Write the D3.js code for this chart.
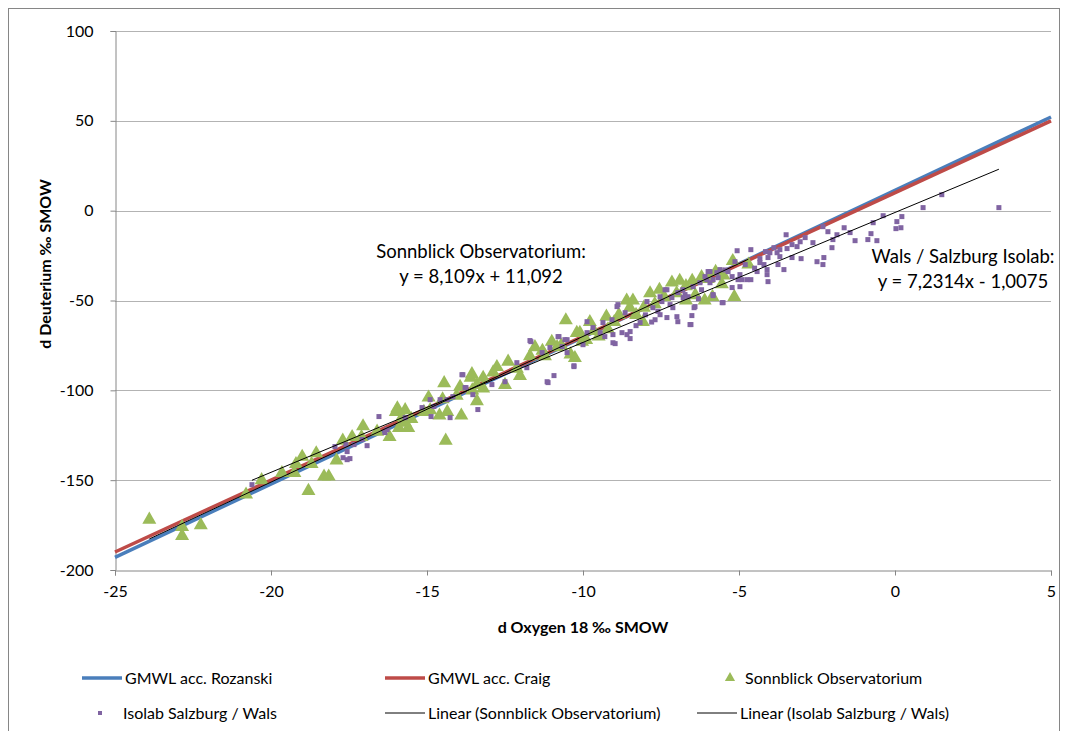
<!DOCTYPE html>
<html>
<head>
<meta charset="utf-8">
<script src="https://cdn.jsdelivr.net/npm/d3@7"></script>
<style>
  body { margin: 0; background: #fff; }
  svg { font-family: Lato, "Open Sans", sans-serif; }
  .tick text { font-size: 16px; fill: #000; }
  .axis-title { font-size: 16px; font-weight: bold; }
  .note { font-size: 18.5px; }
  .legend text { font-size: 16px; }
</style>
</head>
<body>
<div id="chart"></div>
<script>
// global meteoric water lines (x range drawn)
const gmwlX = [-25, 5];
const rozanski = { slope: 8.17, intercept: 11.27 };
const craig = { slope: 8, intercept: 10 };

// trendlines as labelled in the chart
const sonnblickFit = { slope: 8.109, intercept: 11.092 };
const isolabFit = { slope: 7.2314, intercept: -1.0075 };

const xTicks = [-25, -20, -15, -10, -5, 0, 5];
const yTicks = [-200, -150, -100, -50, 0, 50, 100];

// [d18O, dD] Sonnblick Observatorium
const sonnblick = [
  [-23.9,-172],[-22.85,-176],[-22.85,-181],[-22.25,-175],[-20.8,-158],[-20.3,-150],
  [-19.65,-146],[-19.25,-146],[-19.2,-141],[-19.0,-137],[-18.8,-156],[-18.7,-141],
  [-18.55,-135],[-18.3,-148],[-18.15,-148],[-17.9,-139],[-17.7,-128],[-17.4,-126],
  [-17.1,-126],[-17.05,-120],[-16.6,-123],[-16.2,-126],[-16.0,-112],[-15.95,-110],
  [-15.9,-121],[-15.8,-115],[-15.7,-111],[-15.7,-118],[-15.6,-121],[-15.5,-116],
  [-15.1,-112],[-14.95,-104],[-14.9,-111],[-14.6,-114],[-14.5,-105],[-14.45,-96],
  [-14.4,-128],[-14.35,-112],[-14.05,-103],[-13.9,-114],[-13.94,-98],[-13.6,-93],
  [-13.56,-91],[-13.55,-100],[-13.4,-97],[-13.4,-106],[-13.2,-93],[-13.2,-99],
  [-12.88,-90],[-12.76,-87],[-12.5,-97],[-12.4,-84],[-12.12,-88],[-12.02,-92],
  [-11.7,-81],[-11.54,-76],[-11.3,-78],[-11.22,-81],[-11.0,-73],[-10.83,-76],
  [-10.7,-75],[-10.55,-61],[-10.4,-80],[-10.26,-82],[-10.2,-68],[-10.1,-68],
  [-10.03,-73],[-9.9,-72],[-9.78,-62],[-9.65,-67],[-9.5,-70],[-9.25,-59],
  [-9.2,-66],[-9.0,-62],[-8.85,-58],[-8.6,-50],[-8.5,-54],[-8.4,-50],[-8.3,-58],
  [-8.08,-62],[-8.05,-54],[-7.85,-46],[-7.7,-52],[-7.55,-44],[-7.4,-48],
  [-7.15,-40],[-7.0,-46],[-6.9,-39],[-6.7,-42],[-6.7,-50],[-6.5,-39],[-6.4,-47],
  [-6.2,-37],[-6.1,-50],[-6.0,-38],[-5.85,-48],[-5.75,-34],[-5.55,-41],
  [-5.5,-36],[-5.2,-28],[-5.15,-48],[-4.7,-30]
];

// [d18O, dD] Isolab Salzburg / Wals
const isolab = [
  [-20.61,-152.5],[-17.95,-131.3],[-17.69,-137.5],[-17.6,-130.2],[-17.56,-138.6],
  [-17.47,-138],[-17.56,-134.1],[-17.34,-130.2],[-17.08,-127.4],[-16.92,-130.8],
  [-16.54,-114.6],[-16.35,-123.5],[-16.28,-121.9],[-15.7,-115.2],[-15.16,-109.6],
  [-14.9,-105.2],[-14.87,-114.6],[-14.78,-109],[-14.58,-105.2],[-14.36,-105.2],
  [-14.26,-115.2],[-14.17,-103.5],[-13.88,-91.3],[-13.85,-91.3],[-13.78,-98.5],
  [-13.75,-98.5],[-13.53,-102.4],[-13.37,-110.7],[-12.92,-96.8],[-12.5,-95.2],
  [-12.12,-84.6],[-11.8,-87.4],[-11.7,-72.3],[-11.67,-72.9],[-11.31,-79],
  [-11.15,-95.2],[-11.12,-95.7],[-11.06,-76.2],[-10.93,-91.8],[-10.8,-70.1],
  [-10.77,-70.1],[-10.67,-75.7],[-10.58,-71.8],[-10.51,-79],[-10.51,-71.8],
  [-10.29,-86.3],[-10.29,-86.8],[-10.0,-74.6],[-9.87,-61.8],[-9.87,-67.9],
  [-9.68,-65.1],[-9.45,-67.9],[-9.36,-62.3],[-9.3,-70.1],[-9.07,-60.7],
  [-9.04,-69],[-9.04,-73.5],[-8.97,-74],[-8.91,-53.4],[-8.88,-52.3],[-8.75,-67.9],
  [-8.65,-56.8],[-8.59,-69],[-8.49,-67.3],[-8.49,-71.2],[-8.3,-64],[-8.17,-62.3],
  [-8.0,-58],[-7.95,-50.6],[-7.8,-62],[-7.76,-54],[-7.69,-60.7],[-7.6,-56],
  [-7.53,-47.9],[-7.53,-57.9],[-7.47,-50.6],[-7.37,-44],[-7.31,-44],[-7.31,-59.5],
  [-7.21,-52.3],[-7.15,-48.4],[-7.12,-54],[-6.99,-59],[-6.96,-45.6],[-6.96,-61.8],
  [-6.8,-44],[-6.79,-48.4],[-6.73,-46.7],[-6.63,-47.9],[-6.57,-63.4],[-6.54,-63.4],
  [-6.51,-58.4],[-6.47,-42.3],[-6.44,-54],[-6.41,-53.4],[-6.3,-49],[-6.25,-40.1],
  [-6.2,-44],[-6.09,-36.7],[-6.03,-38.4],[-5.99,-33.9],[-5.93,-33.9],[-5.93,-40.1],
  [-5.83,-38.4],[-5.83,-46.7],[-5.83,-47.3],[-5.71,-34.5],[-5.67,-37.3],
  [-5.61,-32.8],[-5.54,-51.2],[-5.51,-51.2],[-5.45,-33],[-5.35,-33.9],
  [-5.22,-36.7],[-5.22,-42.8],[-5.13,-28.4],[-5.06,-22.3],[-5.03,-38.4],
  [-4.97,-35.6],[-4.97,-42.3],[-4.9,-38.4],[-4.8,-30],[-4.74,-38.4],[-4.62,-21.7],
  [-4.62,-38.4],[-4.5,-32],[-4.42,-33.9],[-4.33,-26.7],[-4.33,-28.9],[-4.2,-30],
  [-4.15,-22.8],[-4.1,-32.8],[-4.1,-35.6],[-4.07,-26.1],[-4.07,-39.5],
  [-4.01,-23.4],[-3.88,-20.6],[-3.78,-23.4],[-3.75,-30],[-3.69,-21.7],
  [-3.69,-25.6],[-3.56,-32.8],[-3.49,-13.4],[-3.46,-21.1],[-3.3,-18.9],
  [-3.3,-26.1],[-3.14,-20],[-3.04,-17.3],[-3.01,-26.7],[-2.88,-15],[-2.63,-17.8],
  [-2.5,-28.4],[-2.31,-8.9],[-2.31,-30],[-2.28,-26.1],[-2.15,-11.7],[-2.02,-20.6],
  [-1.99,-16.1],[-1.86,-13.4],[-1.63,-9.5],[-1.44,-12.2],[-1.28,-16.7],
  [-0.87,-16.1],[-0.77,-12.8],[-0.7,-6.7],[-0.58,-16.7],[-0.38,-2.8],
  [0.03,-10],[0.06,-6.1],[0.19,-9.5],[0.22,-3.3],[0.9,1.7],[1.5,8.9],[3.33,1.7]
];

const W = 1069, H = 731;
const svg = d3.select('#chart').append('svg').attr('width', W).attr('height', H);

// chart frame
svg.append('rect').attr('x', 8.5).attr('y', 8.5).attr('width', 1051).attr('height', 740)
  .attr('fill', 'none').attr('stroke', '#868686').attr('stroke-width', 1);

const x = d3.scaleLinear().domain([-25, 5]).range([115, 1051]);
const y = d3.scaleLinear().domain([-200, 100]).range([570, 31]);

// horizontal gridlines
svg.append('g').selectAll('line').data(yTicks.filter(d => d > -200)).join('line')
  .attr('x1', x(-25)).attr('x2', x(5))
  .attr('y1', d => Math.round(y(d)) + 0.5).attr('y2', d => Math.round(y(d)) + 0.5)
  .attr('stroke', '#b3b3b3');

// axes (plain hyphen for negatives, like the original)
const fmt = d => String(d);
const yAxis = svg.append('g').attr('transform', `translate(${x(-25) + 0.5},0)`)
  .call(d3.axisLeft(y).tickValues(yTicks).tickFormat(fmt).tickSize(5).tickPadding(17));
const xAxis = svg.append('g').attr('transform', `translate(0,${Math.round(y(-200)) + 0.5})`)
  .call(d3.axisBottom(x).tickValues(xTicks).tickFormat(fmt).tickSize(5).tickPadding(10));
[xAxis, yAxis].forEach(a => {
  a.select('.domain').attr('stroke', '#868686');
  a.selectAll('.tick line').attr('stroke', '#868686');
  a.selectAll('.tick text').style('font-family', 'Lato, sans-serif');
});

// axis titles
svg.append('text').attr('class', 'axis-title').attr('x', 583).attr('y', 633)
  .attr('text-anchor', 'middle').text('d Oxygen 18 ‰ SMOW');
svg.append('text').attr('class', 'axis-title')
  .attr('transform', 'translate(51,264) rotate(-90)')
  .attr('text-anchor', 'middle').text('d Deuterium ‰ SMOW');

const line = d3.line().x(d => x(d[0])).y(d => y(d[1]));
const fitPoints = (fit, xs) => xs.map(v => [v, fit.slope * v + fit.intercept]);

// GMWL lines
svg.append('path').attr('d', line(fitPoints(rozanski, gmwlX)))
  .attr('stroke', '#4a7ebb').attr('stroke-width', 3.5).attr('fill', 'none');
svg.append('path').attr('d', line(fitPoints(craig, gmwlX)))
  .attr('stroke', '#be4b48').attr('stroke-width', 3.5).attr('fill', 'none');

// Sonnblick triangles
const tri = d3.symbol().type(d3.symbolTriangle).size(85);
svg.append('g').selectAll('path').data(sonnblick).join('path')
  .attr('d', tri)
  .attr('transform', d => `translate(${x(d[0])},${y(d[1])})`)
  .attr('fill', '#9bbb59');

// Isolab squares
svg.append('g').selectAll('rect').data(isolab).join('rect')
  .attr('x', d => x(d[0]) - 2.5).attr('y', d => y(d[1]) - 2.5)
  .attr('width', 5).attr('height', 5).attr('fill', '#8064a2');

// trendlines over each series' range
const sonExt = d3.extent(sonnblick, d => d[0]);
const isoExt = d3.extent(isolab, d => d[0]);
svg.append('path').attr('d', line(fitPoints(sonnblickFit, sonExt)))
  .attr('stroke', '#000').attr('stroke-width', 1).attr('fill', 'none');
svg.append('path').attr('d', line(fitPoints(isolabFit, isoExt)))
  .attr('stroke', '#000').attr('stroke-width', 1).attr('fill', 'none');

// trendline labels
svg.append('text').attr('class', 'note').attr('x', 481).attr('y', 258)
  .attr('text-anchor', 'middle').text('Sonnblick Observatorium:');
svg.append('text').attr('class', 'note').attr('x', 481).attr('y', 283)
  .attr('text-anchor', 'middle').text('y = 8,109x + 11,092');
svg.append('text').attr('class', 'note').attr('x', 963).attr('y', 263)
  .attr('text-anchor', 'middle').text('Wals / Salzburg Isolab:');
svg.append('text').attr('class', 'note').attr('x', 963).attr('y', 288)
  .attr('text-anchor', 'middle').text('y = 7,2314x - 1,0075');

// legend
const legendItems = [
  { name: 'GMWL acc. Rozanski', kind: 'line', color: '#4a7ebb', w: 3.5, lx: 82, ly: 678 },
  { name: 'GMWL acc. Craig', kind: 'line', color: '#be4b48', w: 3.5, lx: 385, ly: 678 },
  { name: 'Sonnblick Observatorium', kind: 'tri', color: '#9bbb59', lx: 697, ly: 678 },
  { name: 'Isolab Salzburg / Wals', kind: 'sq', color: '#8064a2', lx: 82, ly: 713 },
  { name: 'Linear (Sonnblick Observatorium)', kind: 'line', color: '#000', w: 1, lx: 385, ly: 713 },
  { name: 'Linear (Isolab Salzburg / Wals)', kind: 'line', color: '#000', w: 1, lx: 697, ly: 713 }
];
const legend = svg.append('g').attr('class', 'legend').selectAll('g').data(legendItems).join('g')
  .attr('transform', d => `translate(${d.lx},${d.ly})`);
legend.filter(d => d.kind === 'line').append('line')
  .attr('x1', 0).attr('x2', 40).attr('stroke', d => d.color).attr('stroke-width', d => d.w);
legend.filter(d => d.kind === 'tri').append('path')
  .attr('d', d3.symbol().type(d3.symbolTriangle).size(45)).attr('transform', 'translate(33,0)')
  .attr('fill', d => d.color);
legend.filter(d => d.kind === 'sq').append('rect')
  .attr('x', 16).attr('y', -2).attr('width', 4).attr('height', 4).attr('fill', d => d.color);
legend.append('text').attr('x', d => d.kind === 'tri' ? 48 : (d.kind === 'sq' ? 41 : 43))
  .attr('dy', '0.35em').text(d => d.name);
</script>
</body>
</html>
